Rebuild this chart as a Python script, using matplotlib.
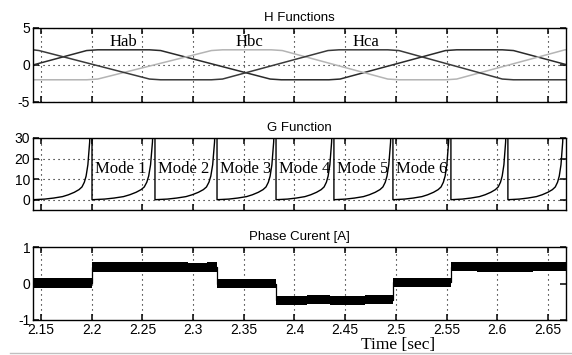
import numpy as np
import matplotlib
matplotlib.use('Agg')
import matplotlib.pyplot as plt
from matplotlib.lines import Line2D

plt.rcParams['font.family'] = 'Liberation Sans'
plt.rcParams['axes.unicode_minus'] = False

# ---- data ----
x_ticks = [2.15, 2.2, 2.25, 2.3, 2.35, 2.4, 2.45, 2.5, 2.55, 2.6, 2.65]
x_ticklabels = ['2.15', '2.2', '2.25', '2.3', '2.35', '2.4', '2.45', '2.5', '2.55', '2.6', '2.65']

# mode boundaries (resets of the G function) [s]
mode_edges = [2.1421, 2.2003, 2.2624, 2.3236, 2.3818, 2.4389, 2.4971, 2.5543, 2.6105, 2.6668]
mode_labels = ['Mode 1', 'Mode 2', 'Mode 3', 'Mode 4', 'Mode 5', 'Mode 6']

# H functions (knots of the trapezoids)
hab_t = [2.1421, 2.1950, 2.2060, 2.2570, 2.2680, 2.3760, 2.3870, 2.4340, 2.4450, 2.5490, 2.5600, 2.6050, 2.6160, 2.668]
hab_v = [0.0, 1.95, 2.05, 2.05, 1.95, -1.9, -2.0, -2.0, -1.9, 1.95, 2.05, 2.05, 1.95, 0.05]
hbc_t = [2.1421, 2.1950, 2.2060, 2.3180, 2.3290, 2.3770, 2.3880, 2.4920, 2.5030, 2.5490, 2.5600, 2.6668, 2.668]
hbc_v = [-2.0, -2.0, -1.9, 1.95, 2.05, 2.05, 1.95, -1.9, -2.0, -2.0, -1.9, 2.05, 2.05]
hca_t = [2.1421, 2.1480, 2.2570, 2.2680, 2.3180, 2.3290, 2.4330, 2.4440, 2.4920, 2.5030, 2.6050, 2.6160, 2.668]
hca_v = [2.05, 1.95, -1.9, -2.0, -2.0, -1.9, 1.95, 2.05, 2.05, 1.95, -1.9, -2.0, -2.0]
h_names = ['Hab', 'Hbc', 'Hca']
h_label_t = [2.218, 2.342, 2.4577]

# G function: shape of one mode (fraction of the mode, value)
g_frac = [0, 0.2, 0.35, 0.5, 0.6, 0.7, 0.78, 0.83, 0.87, 0.9, 0.93, 0.96, 1.0]
g_val = [0, 0.3, 0.8, 1.5, 2.4, 3.6, 4.9, 6.2, 8.5, 11.5, 17, 28, 60]

# phase current: step edges and band centre
i_edges = [2.1415, 2.2003, 2.2950, 2.3140, 2.3236, 2.3818, 2.4120, 2.4350, 2.4695,
           2.4971, 2.5543, 2.5797, 2.6350, 2.6690]
i_level = [0.01, 0.45, 0.435, 0.45, 0.0, -0.46, -0.445, -0.46, -0.445, 0.03, 0.465, 0.45, 0.465]
i_half = 0.13

xlim = (2.1421, 2.6678)
grid_kw = dict(color='k', linestyle=(0, (1, 3.5)), linewidth=0.8)


def style_axes(ax):
    ax.set_xlim(xlim)
    ax.set_xticks(x_ticks)
    ax.tick_params(direction='in', length=4.5, width=1.1, top=True, right=True,
                   labelsize=10, pad=2, colors='k')
    for s in ax.spines.values():
        s.set_linewidth(1.0)
    ax.xaxis.grid(True, **grid_kw)


fig = plt.figure(figsize=(5.72, 3.55), dpi=100)
L, W = 0.0577, 0.9318

# H functions
ax1 = fig.add_axes([L, 0.7127, W, 0.2085])
ax1.plot(hab_t, hab_v, color='#2a2a2a', lw=1.1)
ax1.plot(hbc_t, hbc_v, color='#b4b4b4', lw=1.1)
ax1.plot(hca_t, hca_v, color='#3a3a3a', lw=1.1)
ax1.set_ylim(-5, 5)
ax1.set_yticks([-5, 0, 5])
style_axes(ax1)
ax1.yaxis.grid(True, **grid_kw)
ax1.set_xticklabels([])
ax1.set_title('H Functions', fontsize=9.5, pad=5)
for name, t in zip(h_names, h_label_t):
    ax1.text(t, 2.6, name, family='Liberation Serif', fontsize=12, ha='left', va='baseline')

# G function
g_t, g_y = [], []
for t0, t1 in zip(mode_edges[:-1], mode_edges[1:]):
    g_t += [t0 + f * (t1 - t0) for f in g_frac]
    g_y += g_val
ax2 = fig.add_axes([L, 0.4085, W, 0.2028])
ax2.plot(g_t, g_y, color='k', lw=1.0)
ax2.set_ylim(-5, 30)
ax2.set_yticks([0, 10, 20, 30])
style_axes(ax2)
ax2.yaxis.grid(True, **grid_kw)
ax2.set_xticklabels([])
ax2.set_title('G Function', fontsize=9.5, pad=5)
for name, t in zip(mode_labels, mode_edges[1:]):
    ax2.text(t + 0.003, 12.9, name, family='Liberation Serif', fontsize=12,
             ha='left', va='baseline')

# Phase current
ax3 = fig.add_axes([L, 0.0986, W, 0.2056])
lv = np.array(i_level + [i_level[-1]])
ax3.fill_between(i_edges, lv - i_half, lv + i_half, step='post', color='k', lw=0)
ax3.step(i_edges, lv, where='post', color='k', lw=0.9)
ax3.set_ylim(-1, 1)
ax3.set_yticks([-1, 0, 1])
style_axes(ax3)
ax3.set_xticklabels(x_ticklabels)
ax3.set_title('Phase Curent [A]', fontsize=9.5, pad=5)

fig.text(0.696, 1 - 349 / 355, 'Time [sec]', family='Liberation Serif', fontsize=12.5,
         ha='center', va='baseline')
fig.add_artist(Line2D([0.017, 1.0], [1 - 353 / 355] * 2, color='#c0c0c0', lw=1))

fig.savefig('out.png', dpi=100)
